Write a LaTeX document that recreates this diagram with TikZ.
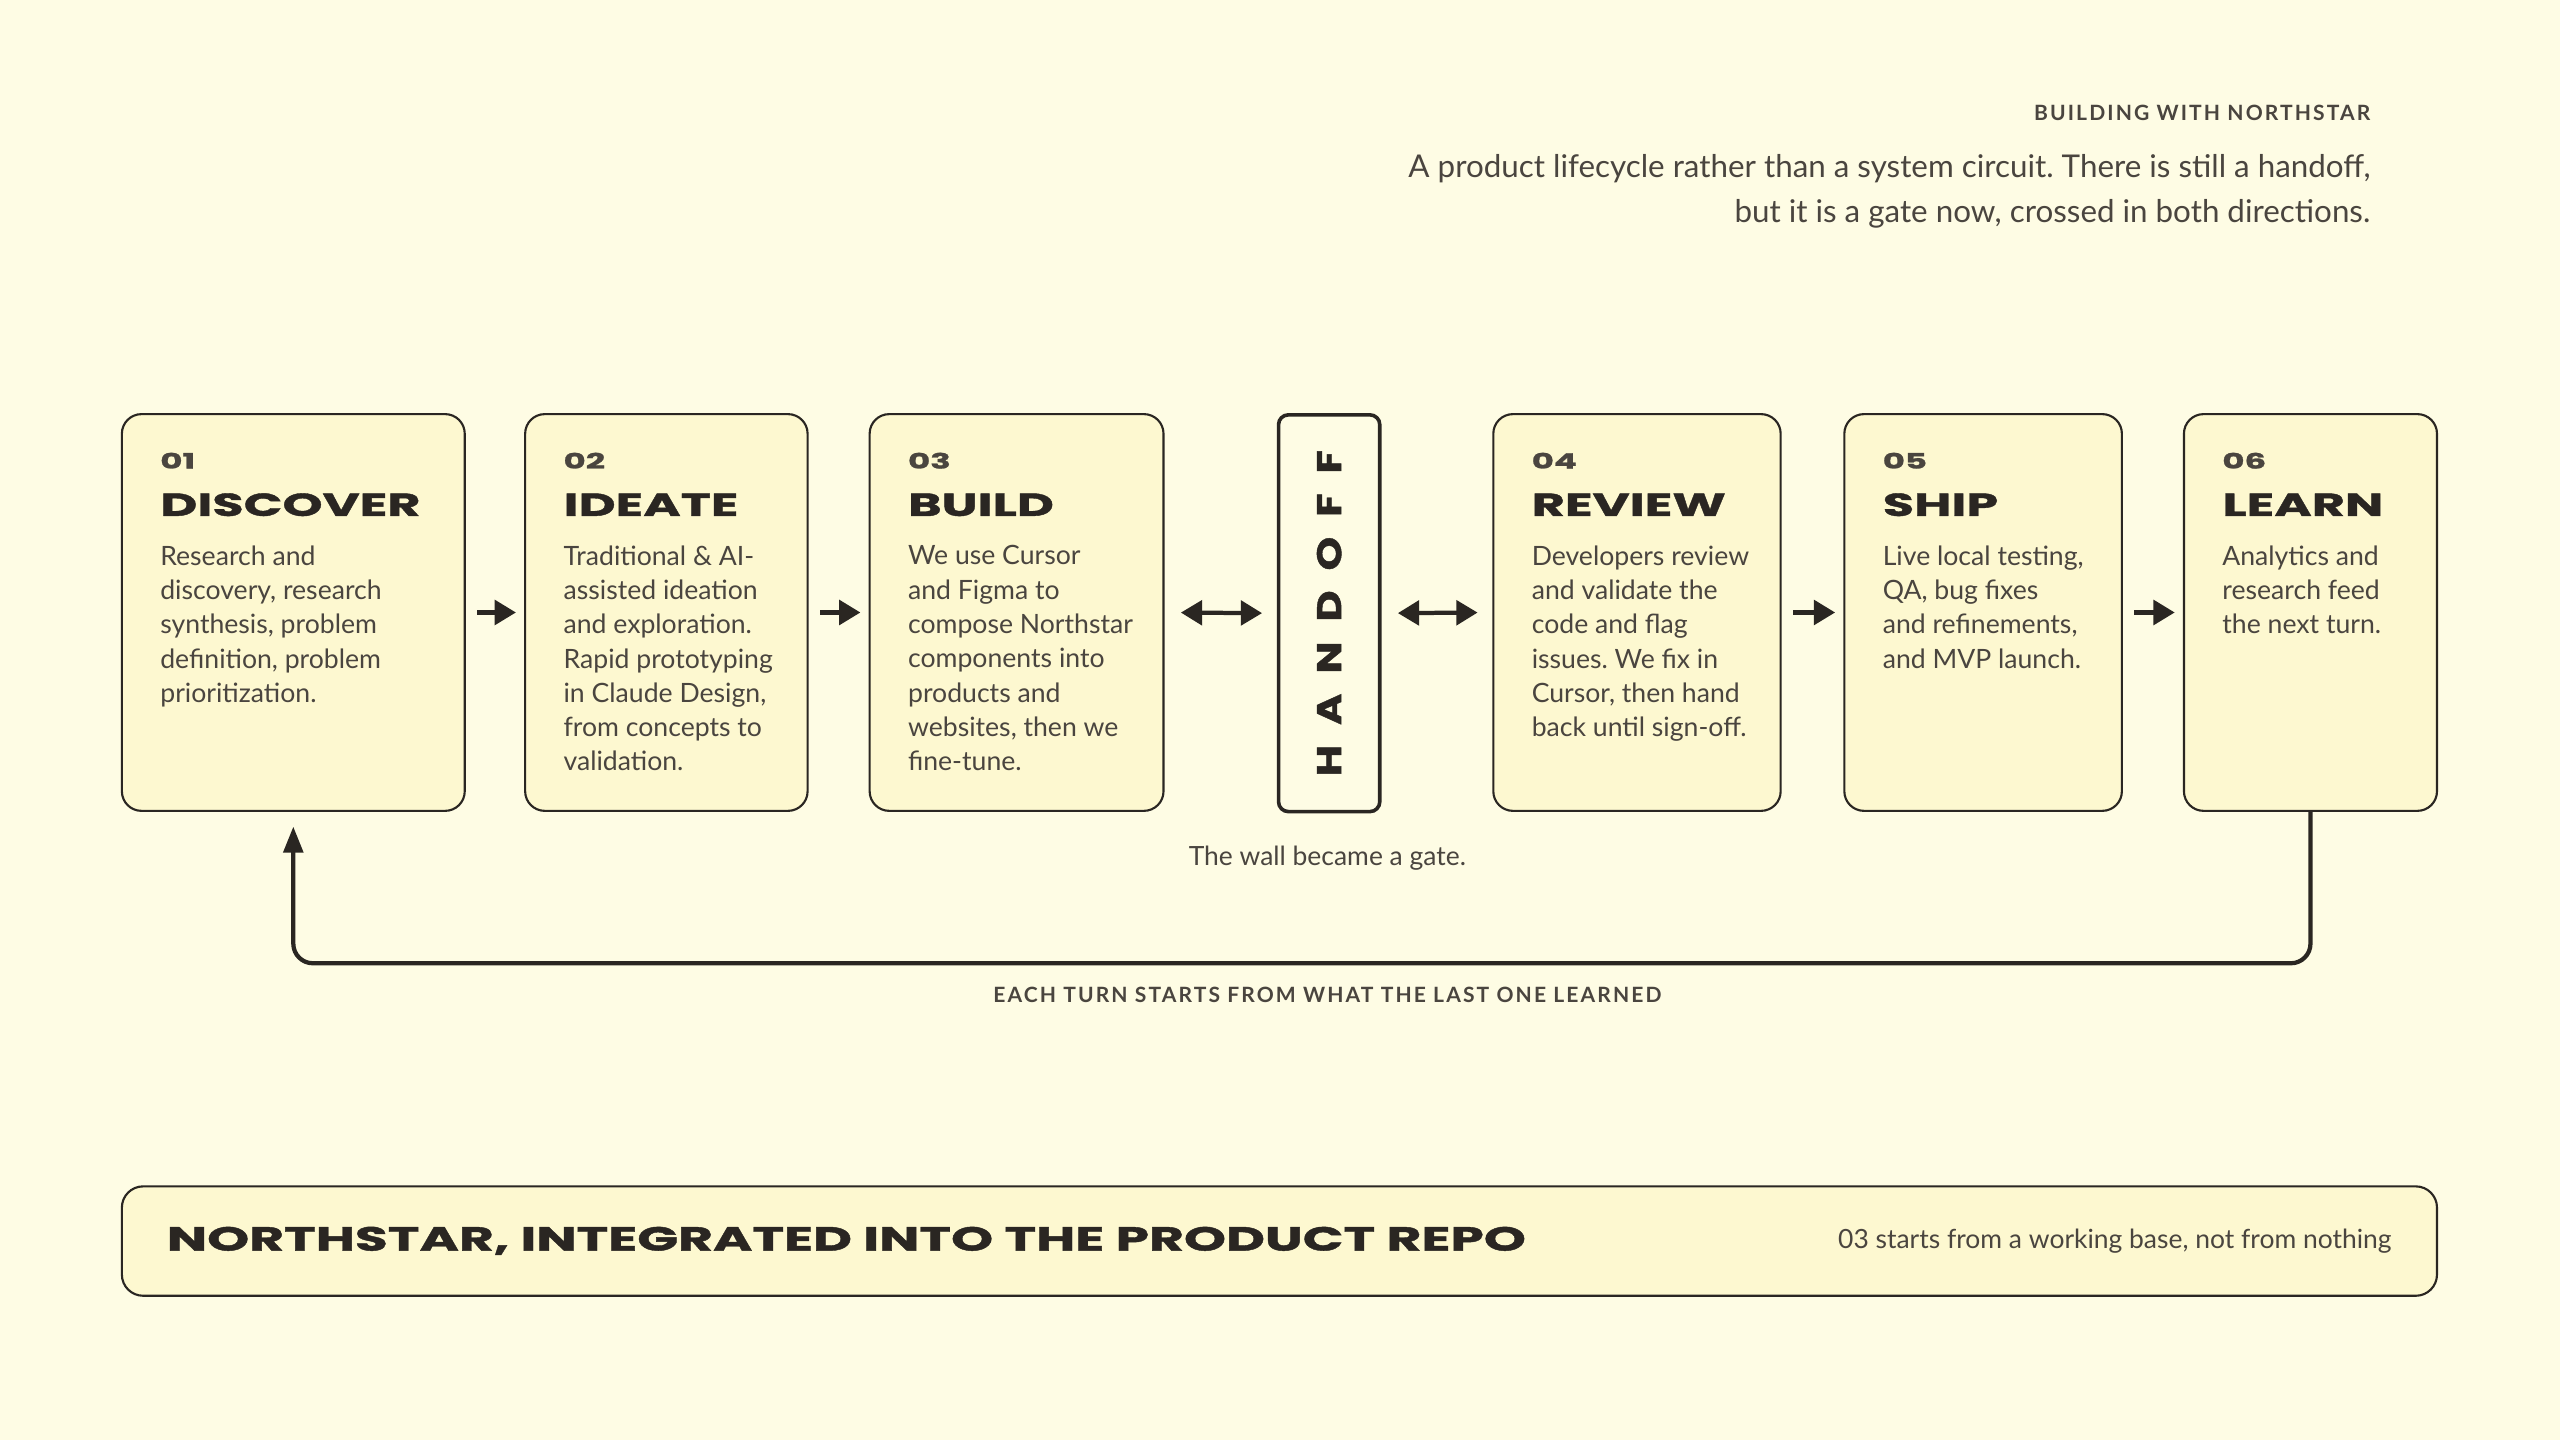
\documentclass[tikz,border=0pt]{standalone}
\usepackage{fontspec}
\setmainfont{Lato}
\newfontfamily\widefont[FakeStretch=1.6,FakeBold=1.2]{Poppins}
\newfontfamily\handfont[FakeStretch=1.25,FakeBold=1.2,LetterSpace=58]{Poppins}
\newfontfamily\spacedfont[LetterSpace=10]{Lato}
\usetikzlibrary{arrows.meta}
\definecolor{bgc}{HTML}{FEFCE4}
\definecolor{boxc}{HTML}{FDF8D0}
\definecolor{ink}{HTML}{2A2622}
\definecolor{body}{HTML}{4A453F}
\tikzset{
  stage/.style={draw=ink, line width=1.3pt, fill=boxc, rounded corners=12pt, inner sep=0pt, minimum height=243pt, anchor=north west},
  gatebox/.style={draw=ink, line width=2.2pt, fill=bgc, rounded corners=6pt, inner sep=0pt, minimum height=243pt, minimum width=62pt, anchor=north west},
  numtxt/.style={font=\widefont\bfseries\fontsize{13}{13}\selectfont, text=body, anchor=base west, inner sep=0pt},
  headtxt/.style={font=\widefont\bfseries\fontsize{19.5}{20}\selectfont, text=ink, anchor=base west, inner sep=0pt},
  bodytxt/.style={font=\fontsize{16.3}{21}\selectfont, text=body, anchor=north west, inner sep=0pt, align=left},
  flow/.style={draw=ink, line width=2.6pt, -{Triangle[length=13pt,width=15pt]}},
  flow2/.style={draw=ink, line width=2.6pt, {Triangle[length=13pt,width=15pt]}-{Triangle[length=13pt,width=15pt]}},
  loopline/.style={draw=ink, line width=2.6pt, rounded corners=12pt, -{Triangle[length=16pt,width=12pt]}},
  caps/.style={font=\spacedfont\bfseries\fontsize{12.9}{13}\selectfont, text=body, inner sep=0pt},
  note/.style={font=\fontsize{16.2}{16}\selectfont, text=body, inner sep=0pt}
}
\newcommand{\strt}{\rule{0pt}{11.5pt}}
\frenchspacing
\begin{document}
\begin{tikzpicture}[x=1pt,y=-1pt]
\fill[bgc] (0,0) rectangle (1568,882);
\useasboundingbox (0,0) rectangle (1568,882);

% header
\node[caps, anchor=base east] (hdr) at (1452,74) {BUILDING WITH NORTHSTAR};
\node[font=\fontsize{19.2}{27}\selectfont, text=body, anchor=base east, inner sep=0pt] (sub1) at (1452,109) {A product lifecycle rather than a system circuit. There is still a handoff,};
\node[font=\fontsize{19.2}{27}\selectfont, text=body, anchor=base east, inner sep=0pt] (sub2) at (1452,136) {but it is a gate now, crossed in both directions.};

% stage boxes
\node[stage, minimum width=210pt] (b1) at (74,253) {};
\node[stage, minimum width=173pt] (b2) at (321,253) {};
\node[stage, minimum width=180pt] (b3) at (532,253) {};
\node[gatebox] (gate) at (782,253) {};
\node[stage, minimum width=176pt] (b4) at (914,253) {};
\node[stage, minimum width=170pt] (b5) at (1129,253) {};
\node[stage, minimum width=155pt] (b6) at (1337,253) {};

% box texts
\node[numtxt] (n1) at (98,287) {01};
\node[headtxt] (h1) at (98,316) {DISCOVER};
\node[bodytxt] (t1) at (98,334) {\strt Research and\\discovery, research\\synthesis, problem\\definition, problem\\prioritization.};

\node[numtxt] (n2) at (345,287) {02};
\node[headtxt] (h2) at (345,316) {IDEATE};
\node[bodytxt] (t2) at (345,334) {\strt Traditional \& AI-\\assisted ideation\\and exploration.\\Rapid prototyping\\in Claude Design,\\from concepts to\\validation.};

\node[numtxt] (n3) at (556,287) {03};
\node[headtxt] (h3) at (556,316) {BUILD};
\node[bodytxt] (t3) at (556,334) {\strt We use Cursor\\and Figma to\\compose Northstar\\components into\\products and\\websites, then we\\fine-tune.};

\node[rotate=90, font=\handfont\bfseries\fontsize{21}{21}\selectfont, text=ink, inner sep=0pt] (gt) at ([xshift=0pt,yshift=0pt]gate.center) {HANDOFF};

\node[numtxt] (n4) at (938,287) {04};
\node[headtxt] (h4) at (938,316) {REVIEW};
\node[bodytxt] (t4) at (938,334) {\strt Developers review\\and validate the\\code and flag\\issues. We fix in\\Cursor, then hand\\back until sign-off.};

\node[numtxt] (n5) at (1153,287) {05};
\node[headtxt] (h5) at (1153,316) {SHIP};
\node[bodytxt] (t5) at (1153,334) {\strt Live local testing,\\QA, bug fixes\\and refinements,\\and MVP launch.};

\node[numtxt] (n6) at (1361,287) {06};
\node[headtxt] (h6) at (1361,316) {LEARN};
\node[bodytxt] (t6) at (1361,334) {\strt Analytics and\\research feed\\the next turn.};

% connectors
\draw[flow, shorten <=7pt, shorten >=5pt] (b1.east) -- (b2.west);
\draw[flow, shorten <=7pt, shorten >=5pt] (b2.east) -- (b3.west);
\draw[flow2, shorten <=10pt, shorten >=9pt] (b3.east) -- (gate.west);
\draw[flow2, shorten <=10pt, shorten >=9pt] (gate.east) -- (b4.west);
\draw[flow, shorten <=7pt, shorten >=5pt] (b4.east) -- (b5.west);
\draw[flow, shorten <=7pt, shorten >=5pt] (b5.east) -- (b6.west);

\node[note, anchor=base] (wall) at (813,530) {The wall became a gate.};

\coordinate (loopy) at (0,590);
\draw[loopline, shorten >=9pt] (b6.south) -- (b6.south |- loopy) -- (b1.south |- loopy) -- (b1.south);
\node[caps, anchor=base] (turn) at (813,614) {EACH TURN STARTS FROM WHAT THE LAST ONE LEARNED};

% bottom banner
\node[draw=ink, line width=1.3pt, fill=boxc, rounded corners=13pt, inner sep=0pt, minimum width=1418pt, minimum height=67pt, anchor=north west] (banner) at (74,726) {};
\node[font=\widefont\bfseries\fontsize{20.5}{21}\selectfont, text=ink, anchor=base west, inner sep=0pt] (btitle) at (102,766) {NORTHSTAR, INTEGRATED INTO THE PRODUCT REPO};
\node[note, anchor=base east] (bnote) at (1465,765) {03 starts from a working base, not from nothing};
\end{tikzpicture}
\end{document}
